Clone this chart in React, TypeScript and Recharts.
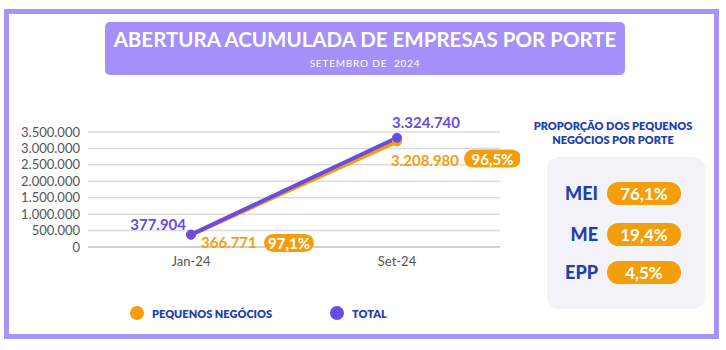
import React from "react";
import { LineChart, Line, XAxis, YAxis, CartesianGrid, LabelList, Legend } from "recharts";

const categories = ["Jan-24", "Set-24"];
const pequenosNegocios = [366771, 3208980];
const total = [377904, 3324740];
const shareLabels = ["97,1%", "96,5%"];
const yTicks = [0, 500000, 1000000, 1500000, 2000000, 2500000, 3000000, 3500000];
const porteNames = ["MEI", "ME", "EPP"];
const porteShares = ["76,1%", "19,4%", "4,5%"];

const data = categories.map((c, i) => ({ cat: c, pn: pequenosNegocios[i], total: total[i], share: shareLabels[i] }));

const ORANGE = "#F59E0B";
const PURPLE = "#6A4BE6";
const FRAME = "#A894F8";
const BLUE = "#1E3FB0";
const FONT = "Lato, 'Noto Sans', sans-serif";

const fmt = (v: number) => String(Math.round(v)).replace(/\B(?=(\d{3})+(?!\d))/g, ".");

const TotalLabel = (props: any) => {
  const { x, y, index, value } = props;
  const first = index === 0;
  return (
    <text
      x={x - 5}
      y={first ? y - 11 : y - 16}
      textAnchor={first ? "end" : "start"}
      dominantBaseline="central"
      fill={PURPLE}
      fontFamily={FONT}
      fontWeight={700}
      fontSize={15}
    >
      {fmt(value)}
    </text>
  );
};

const PnLabel = (props: any) => {
  const { x, y, index, value } = props;
  const first = index === 0;
  const tx = first ? x + 10 : x - 6;
  const ty = first ? y + 7 : y + 18;
  const px = first ? x + 73 : x + 67;
  const pw = first ? 50 : 57;
  const py = first ? y + 8 : y + 17;
  return (
    <g>
      <text x={tx} y={ty} textAnchor="start" dominantBaseline="central" fill={ORANGE} fontFamily={FONT} fontWeight={700} fontSize={15}>
        {fmt(value)}
      </text>
      <rect x={px} y={py - 9} width={pw} height={18} rx={9} ry={9} fill={ORANGE} />
      <text x={px + pw / 2} y={py} textAnchor="middle" dominantBaseline="central" fill="#fff" fontFamily={FONT} fontWeight={700} fontSize={15}>
        {shareLabels[index]}
      </text>
    </g>
  );
};

const LegendContent = (props: any) => {
  const { payload } = props;
  return (
    <div style={{ display: "flex", alignItems: "center", fontFamily: FONT, height: 16 }}>
      {(payload || []).map((p: any, i: number) => (
        <div key={i} style={{ display: "flex", alignItems: "center", width: i === 0 ? 200 : 100 }}>
          <span style={{ display: "inline-block", width: 14, height: 14, borderRadius: 7, background: p.color, marginRight: 8 }} />
          <span style={{ color: BLUE, fontWeight: 800, fontSize: 11 }}>{p.value}</span>
        </div>
      ))}
    </div>
  );
};

export default function App() {
  return (
    <div style={{ position: "fixed", left: 0, top: 0, width: 726, height: 350, background: "#fff", overflow: "hidden", fontFamily: FONT }}>
      <div style={{ position: "absolute", left: 4, top: 9, width: 705, height: 320, border: `5px solid ${FRAME}` }} />
      <div style={{ position: "absolute", left: 105, top: 22, width: 520, height: 53, background: "#A58FF8", borderRadius: 5, color: "#fff", textAlign: "center" }}>
        <div style={{ position: "absolute", left: 0, right: 0, top: 4, fontSize: 20.5, fontWeight: 700, lineHeight: "26px", letterSpacing: 0, whiteSpace: "nowrap" }}>
          ABERTURA ACUMULADA DE EMPRESAS POR PORTE
        </div>
        <div style={{ position: "absolute", left: 0, right: 0, top: 34, fontSize: 10, lineHeight: "14px", letterSpacing: 0.8, whiteSpace: "pre" }}>
          SETEMBRO DE  2024
        </div>
      </div>

      <div style={{ position: "absolute", left: 0, top: 0 }}>
        <LineChart width={520} height={340} data={data} margin={{ top: 132, right: 20, left: 0, bottom: 47 }}>
          <CartesianGrid vertical={false} stroke="#dcdcdc" strokeWidth={1.5} />
          <XAxis
            dataKey="cat"
            tickLine={false}
            axisLine={{ stroke: "#c8c8c8", strokeWidth: 1.5 }}
            tick={{ fill: "#555", fontSize: 13, fontFamily: FONT }}
            tickMargin={4}
            height={30}
            padding={{ left: 103, right: 103 }}
          />
          <YAxis
            width={88}
            domain={[0, 3500000]}
            ticks={yTicks}
            tickFormatter={fmt}
            tickLine={false}
            axisLine={false}
            interval={0}
            tick={{ fill: "#555", fontSize: 13, fontFamily: FONT }}
            tickMargin={2}
          />
          <Legend
            verticalAlign="bottom"
            content={<LegendContent />}
            wrapperStyle={{ position: "absolute", left: 130, top: 305, width: 320, height: 16 }}
          />
          <Line
            type="linear"
            dataKey="pn"
            name="PEQUENOS NEGÓCIOS"
            stroke={ORANGE}
            strokeWidth={4}
            dot={{ r: 4.5, fill: ORANGE, stroke: ORANGE, strokeWidth: 1 }}
            isAnimationActive={false}
          >
            <LabelList dataKey="pn" content={<PnLabel />} />
          </Line>
          <Line
            type="linear"
            dataKey="total"
            name="TOTAL"
            stroke={PURPLE}
            strokeWidth={4}
            dot={{ r: 4.5, fill: PURPLE, stroke: PURPLE, strokeWidth: 1 }}
            isAnimationActive={false}
          >
            <LabelList dataKey="total" content={<TotalLabel />} />
          </Line>
        </LineChart>
      </div>

      <div style={{ position: "absolute", left: 520, top: 119, width: 186, textAlign: "center", color: BLUE, fontWeight: 800, fontSize: 11, lineHeight: "14px", whiteSpace: "nowrap" }}>
        PROPORÇÃO DOS PEQUENOS
        <br />
        NEGÓCIOS POR PORTE
      </div>
      <div style={{ position: "absolute", left: 547, top: 157, width: 158, height: 152, background: "#F3F2F9", borderRadius: 12 }}>
        {porteNames.map((n, i) => (
          <div key={n} style={{ position: "absolute", left: 0, top: [25, 66, 104][i], height: 23, width: 158 }}>
            <div style={{ position: "absolute", right: 158 - 51, top: 0, lineHeight: "23px", fontSize: 18, fontWeight: 900, color: BLUE }}>{n}</div>
            <div style={{ position: "absolute", left: 60, top: 0, width: 74, height: 23, borderRadius: 12, background: ORANGE, color: "#fff", textAlign: "center", lineHeight: "23px", fontSize: 17, fontWeight: 700 }}>
              {porteShares[i]}
            </div>
          </div>
        ))}
      </div>
    </div>
  );
}
